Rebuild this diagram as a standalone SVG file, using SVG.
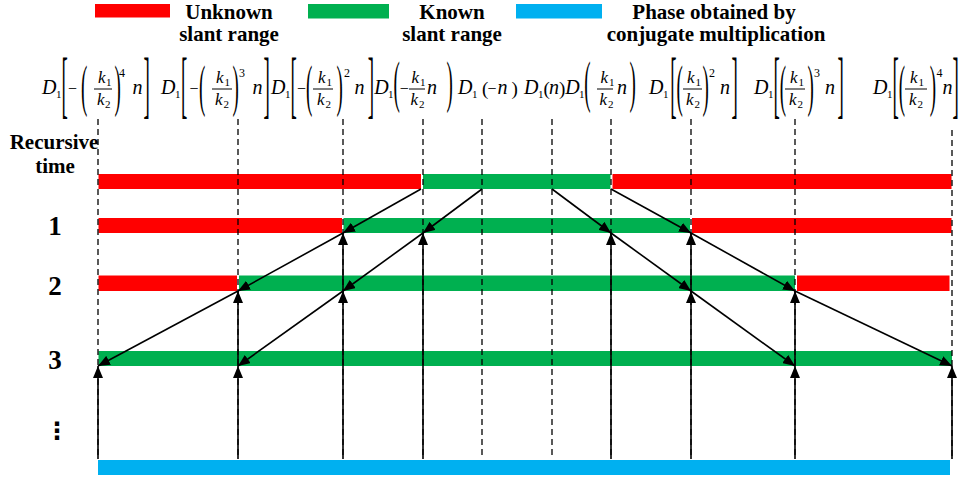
<svg xmlns="http://www.w3.org/2000/svg" width="959" height="479" viewBox="0 0 959 479">
<defs>
<style>
.lg{font-family:"Liberation Serif",serif;font-weight:bold;font-size:21px;text-anchor:middle;fill:#000}
.num{font-family:"Liberation Serif",serif;font-weight:bold;font-size:27px;text-anchor:middle;fill:#000}
.f text{font-family:"Liberation Serif",serif;fill:#000}
.mi{font-style:italic;font-size:20px}
.mk{font-style:italic;font-size:17px}
.mr{font-size:19px}
.mm{font-size:16px}
.sb{font-size:11px}
.sp{font-size:12px}
.fl{stroke:#000;stroke-width:1}
.red{fill:#FF0000}
.grn{fill:#00B050}
.blu{fill:#00B0F0}
.dash{stroke:#000;stroke-width:1.3;stroke-dasharray:6 4;fill:none}
.arr{stroke:#000;stroke-width:1.6;fill:none;marker-end:url(#ah)}
</style>
<marker id="ah" markerUnits="userSpaceOnUse" markerWidth="12" markerHeight="10" refX="12" refY="5" orient="auto">
<path d="M0,0 L12,5 L0,10 z" fill="#000"/>
</marker>
</defs>
<rect width="959" height="479" fill="#fff"/>

<g id="legend">
<rect class="red" x="95" y="4" width="75" height="13.5"/>
<text class="lg" x="229" y="18.5">Unknown</text>
<text class="lg" x="229" y="41">slant range</text>
<rect class="grn" x="308" y="4" width="81" height="14.5"/>
<text class="lg" x="452" y="18.5">Known</text>
<text class="lg" x="452" y="41">slant range</text>
<rect class="blu" x="516" y="4" width="86" height="14.5"/>
<text class="lg" x="714" y="18.5">Phase obtained by</text>
<text class="lg" x="716" y="41">conjugate multiplication</text>
</g>

<g id="row-labels">
<text class="lg" x="54" y="149">Recursive</text>
<text class="lg" x="55" y="173">time</text>
<text class="num" x="55" y="235">1</text>
<text class="num" x="55" y="295">2</text>
<text class="num" x="55" y="369">3</text>
<text x="57" y="439" style="font-family:'DejaVu Sans',sans-serif;font-weight:bold;font-size:24px;text-anchor:middle">⋮</text>
</g>

<g id="formulas" class="f">
<g id="f1">
<text class="mi" x="42" y="94">D</text><text class="sb" x="56" y="98">1</text>
<text class="mr" transform="translate(61.5,108.7) scale(1,3.87)">[</text>
<text class="mm" x="68" y="94">−</text>
<text class="mr" transform="translate(81.1,104.8) scale(1,3.02)">(</text>
<text class="mk" x="98" y="83">k</text><text class="sb" x="106" y="86">1</text>
<line class="fl" x1="94" y1="89" x2="112" y2="89"/>
<text class="mk" x="97" y="105">k</text><text class="sb" x="105" y="108">2</text>
<text class="mr" transform="translate(114.5,104.8) scale(1,3.02)">)</text>
<text class="sp" x="119" y="77">4</text>
<text class="mi" x="132.5" y="94">n</text>
<text class="mr" transform="translate(143.4,108.7) scale(1,3.87)">]</text>
</g>
<g id="f2">
<text class="mi" x="161" y="94">D</text><text class="sb" x="175" y="98">1</text>
<text class="mr" transform="translate(181,108.7) scale(1,3.87)">[</text>
<text class="mm" x="189.5" y="94">−</text>
<text class="mr" transform="translate(199.1,104.8) scale(1,3.02)">(</text>
<text class="mk" x="216" y="83">k</text><text class="sb" x="224.5" y="86">1</text>
<line class="fl" x1="212" y1="89" x2="232" y2="89"/>
<text class="mk" x="215" y="105">k</text><text class="sb" x="223.5" y="108">2</text>
<text class="mr" transform="translate(232.5,104.8) scale(1,3.02)">)</text>
<text class="sp" x="239" y="77">3</text>
<text class="mi" x="252.5" y="94">n</text>
<text class="mr" transform="translate(263.4,108.7) scale(1,3.87)">]</text>
</g>
<g id="f3">
<text class="mi" x="271" y="94">D</text><text class="sb" x="285" y="98">1</text>
<text class="mr" transform="translate(290.5,108.7) scale(1,3.87)">[</text>
<text class="mm" x="297" y="94">−</text>
<text class="mr" transform="translate(306.1,104.8) scale(1,3.02)">(</text>
<text class="mk" x="318" y="83">k</text><text class="sb" x="326.5" y="86">1</text>
<line class="fl" x1="313" y1="89" x2="333" y2="89"/>
<text class="mk" x="317" y="105">k</text><text class="sb" x="325.5" y="108">2</text>
<text class="mr" transform="translate(336.5,104.8) scale(1,3.02)">)</text>
<text class="sp" x="344" y="77">2</text>
<text class="mi" x="354.5" y="94">n</text>
<text class="mr" transform="translate(367.8,108.7) scale(1,3.87)">]</text>
</g>
<g id="f4">
<text class="mi" x="374.3" y="94">D</text><text class="sb" x="388" y="98">1</text>
<text class="mr" transform="translate(393.5,100.8) scale(1,3.02)">(</text>
<text class="mm" x="399.8" y="94">−</text>
<text class="mk" x="411.5" y="83">k</text><text class="sb" x="420" y="86">1</text>
<line class="fl" x1="409" y1="89" x2="425" y2="89"/>
<text class="mk" x="410.5" y="105">k</text><text class="sb" x="419" y="108">2</text>
<text class="mi" x="427" y="94">n</text>
<text class="mr" transform="translate(446.5,100.8) scale(1,3.02)">)</text>
</g>
<g id="f5">
<text class="mi" x="458" y="94">D</text><text class="sb" x="472" y="98">1</text>
<text class="mr" x="482.1" y="95">(</text>
<text class="mm" x="487.5" y="94">−</text>
<text class="mi" x="497.5" y="94">n</text>
<text class="mr" x="511.5" y="95">)</text>
</g>
<g id="f6">
<text class="mi" x="524" y="94">D</text><text class="sb" x="538" y="98">1</text>
<text class="mr" x="543.5" y="95">(</text>
<text class="mi" x="549" y="94">n</text>
<text class="mr" x="559" y="95">)</text>
</g>
<g id="f7">
<text class="mi" x="565.3" y="94">D</text><text class="sb" x="579" y="98">1</text>
<text class="mr" transform="translate(584.3,100.8) scale(1,3.02)">(</text>
<text class="mk" x="600.5" y="83">k</text><text class="sb" x="609" y="86">1</text>
<line class="fl" x1="597" y1="89" x2="613" y2="89"/>
<text class="mk" x="599.5" y="105">k</text><text class="sb" x="608" y="108">2</text>
<text class="mi" x="617" y="94">n</text>
<text class="mr" transform="translate(629.5,100.8) scale(1,3.02)">)</text>
</g>
<g id="f8">
<text class="mi" x="649" y="94">D</text><text class="sb" x="663" y="98">1</text>
<text class="mr" transform="translate(670.3,108.7) scale(1,3.87)">[</text>
<text class="mr" transform="translate(676.6,104.8) scale(1,3.02)">(</text>
<text class="mk" x="687" y="83">k</text><text class="sb" x="695.5" y="86">1</text>
<line class="fl" x1="683" y1="89" x2="702" y2="89"/>
<text class="mk" x="686" y="105">k</text><text class="sb" x="694.5" y="108">2</text>
<text class="mr" transform="translate(702.5,104.8) scale(1,3.02)">)</text>
<text class="sp" x="709" y="77">2</text>
<text class="mi" x="720" y="94">n</text>
<text class="mr" transform="translate(731.4,108.7) scale(1,3.87)">]</text>
</g>
<g id="f9">
<text class="mi" x="754" y="94">D</text><text class="sb" x="768" y="98">1</text>
<text class="mr" transform="translate(773.5,108.7) scale(1,3.87)">[</text>
<text class="mr" transform="translate(779.8,104.8) scale(1,3.02)">(</text>
<text class="mk" x="790" y="83">k</text><text class="sb" x="798.5" y="86">1</text>
<line class="fl" x1="785" y1="89" x2="805" y2="89"/>
<text class="mk" x="789" y="105">k</text><text class="sb" x="797.5" y="108">2</text>
<text class="mr" transform="translate(807.5,104.8) scale(1,3.02)">)</text>
<text class="sp" x="814" y="77">3</text>
<text class="mi" x="825" y="94">n</text>
<text class="mr" transform="translate(837.4,108.7) scale(1,3.87)">]</text>
</g>
<g id="f10">
<text class="mi" x="873" y="94">D</text><text class="sb" x="887" y="98">1</text>
<text class="mr" transform="translate(892.5,108.7) scale(1,3.87)">[</text>
<text class="mr" transform="translate(898.8,104.8) scale(1,3.02)">(</text>
<text class="mk" x="910" y="83">k</text><text class="sb" x="918.5" y="86">1</text>
<line class="fl" x1="905" y1="89" x2="927" y2="89"/>
<text class="mk" x="909" y="105">k</text><text class="sb" x="917.5" y="108">2</text>
<text class="mr" transform="translate(929.8,104.8) scale(1,3.02)">)</text>
<text class="sp" x="936.5" y="77">4</text>
<text class="mi" x="942.5" y="94">n</text>
<text class="mr" transform="translate(952.6,108.7) scale(1,3.87)">]</text>
</g>
</g>

<g id="bars">
<g id="row0">
<rect class="red" x="98.5" y="174" width="322.5" height="15"/>
<rect class="grn" x="423" y="174" width="187.5" height="15"/>
<rect class="red" x="612.5" y="174" width="339" height="15"/>
</g>
<g id="row1">
<rect class="red" x="98.5" y="218" width="243.5" height="15"/>
<rect class="grn" x="343.5" y="218" width="346.5" height="15"/>
<rect class="red" x="692" y="218" width="259.5" height="15"/>
</g>
<g id="row2">
<rect class="red" x="98.5" y="275.5" width="138.5" height="15.5"/>
<rect class="grn" x="239" y="275.5" width="556" height="15.5"/>
<rect class="red" x="797" y="275.5" width="152.5" height="15.5"/>
</g>
<g id="row3">
<rect class="grn" x="98.5" y="351" width="853.5" height="15"/>
</g>
<g id="phase">
<rect class="blu" x="98" y="460" width="852" height="15"/>
</g>
</g>

<g id="guides">
<line class="dash" x1="98" y1="119" x2="98" y2="458"/>
<line class="dash" x1="238" y1="119" x2="238" y2="458"/>
<line class="dash" x1="343" y1="119" x2="343" y2="458"/>
<line class="dash" x1="423" y1="119" x2="423" y2="458"/>
<line class="dash" x1="482" y1="119" x2="482" y2="458"/>
<line class="dash" x1="552" y1="119" x2="552" y2="458"/>
<line class="dash" x1="611" y1="119" x2="611" y2="458"/>
<line class="dash" x1="691" y1="119" x2="691" y2="458"/>
<line class="dash" x1="795" y1="119" x2="795" y2="458"/>
<line class="dash" x1="952" y1="130" x2="952" y2="458"/>
</g>

<g id="connectors">
<line class="arr" x1="421" y1="189" x2="343" y2="233"/>
<line class="arr" x1="482" y1="189" x2="423" y2="233"/>
<line class="arr" x1="343" y1="233" x2="238" y2="291"/>
<line class="arr" x1="423" y1="233" x2="343" y2="291"/>
<line class="arr" x1="238" y1="291" x2="98" y2="366"/>
<line class="arr" x1="343" y1="291" x2="238" y2="366"/>
<line class="arr" x1="552" y1="189" x2="611" y2="233"/>
<line class="arr" x1="611" y1="189" x2="691" y2="233"/>
<line class="arr" x1="611" y1="233" x2="691" y2="291"/>
<line class="arr" x1="691" y1="233" x2="795" y2="291"/>
<line class="arr" x1="691" y1="291" x2="795" y2="366"/>
<line class="arr" x1="795" y1="291" x2="952" y2="366"/>
<line class="arr" x1="98" y1="459" x2="98" y2="366"/>
<line class="arr" x1="238" y1="459" x2="238" y2="366"/>
<line class="arr" x1="238" y1="366" x2="238" y2="291"/>
<line class="arr" x1="343" y1="459" x2="343" y2="291"/>
<line class="arr" x1="343" y1="291" x2="343" y2="233"/>
<line class="arr" x1="423" y1="459" x2="423" y2="233"/>
<line class="arr" x1="611" y1="459" x2="611" y2="233"/>
<line class="arr" x1="691" y1="459" x2="691" y2="291"/>
<line class="arr" x1="691" y1="291" x2="691" y2="233"/>
<line class="arr" x1="795" y1="459" x2="795" y2="366"/>
<line class="arr" x1="795" y1="366" x2="795" y2="291"/>
<line class="arr" x1="952" y1="459" x2="952" y2="366"/>
</g>
</svg>
